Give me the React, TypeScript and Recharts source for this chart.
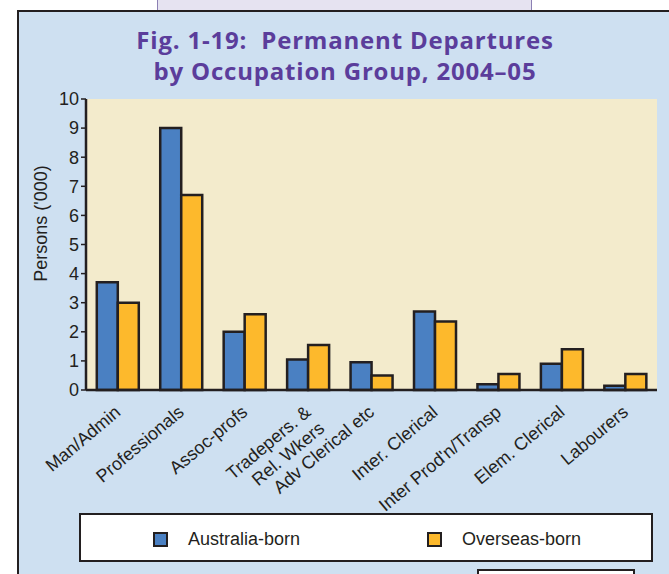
import { Bar, BarChart, CartesianGrid, Legend, XAxis, YAxis } from 'recharts';

const categories = [
  'Man/Admin',
  'Professionals',
  'Assoc-profs',
  'Tradepers. &\nRel. Wkers',
  'Adv Clerical etc',
  'Inter. Clerical',
  "Inter Prod'n/Transp",
  'Elem. Clerical',
  'Labourers',
];
const australiaBorn = [3.7, 9.0, 2.0, 1.05, 0.95, 2.7, 0.2, 0.9, 0.15];
const overseasBorn = [3.0, 6.7, 2.6, 1.55, 0.5, 2.35, 0.55, 1.4, 0.55];
const yTicks = [0, 1, 2, 3, 4, 5, 6, 7, 8, 9, 10];

const data = categories.map((name, i) => ({
  name,
  aus: australiaBorn[i],
  os: overseasBorn[i],
}));

const ink = '#231f20';
const font = '"Liberation Sans", Arial, sans-serif';

function XTick({ x, y, payload }: any) {
  const lines = String(payload.value).split('\n');
  return (
    <g transform={`translate(${x + 4},${y + 16})`}>
      <text transform="rotate(-40)" textAnchor="end" fontSize={18} fontFamily={font} fill={ink}>
        {lines.map((l, i) => (
          <tspan key={i} x={0} dy={i === 0 ? 0 : 21}>
            {l}
          </tspan>
        ))}
      </text>
    </g>
  );
}

function YLabel({ viewBox }: any) {
  const cx = viewBox.x + 41;
  const cy = viewBox.y + viewBox.height / 2 - 21;
  return (
    <text
      x={cx}
      y={cy}
      transform={`rotate(-90, ${cx}, ${cy})`}
      textAnchor="middle"
      dominantBaseline="central"
      fontSize={18}
      fontFamily={font}
      fill={ink}
    >
      Persons ('000)
    </text>
  );
}

function LegendBox({ payload }: any) {
  return (
    <div
      style={{
        width: 574,
        height: 49,
        boxSizing: 'border-box',
        border: `2px solid ${ink}`,
        background: '#fff',
        position: 'relative',
        fontFamily: font,
        fontSize: 18,
        color: ink,
      }}
    >
      {(payload || []).map((p: any, i: number) => (
        <div
          key={p.value}
          style={{
            position: 'absolute',
            left: i === 0 ? 72 : 346,
            top: 14,
            display: 'flex',
            alignItems: 'center',
            whiteSpace: 'nowrap',
          }}
        >
          <span
            style={{
              width: 15,
              height: 15,
              boxSizing: 'border-box',
              border: `2px solid ${ink}`,
              background: p.color,
              display: 'inline-block',
              marginRight: 20,
            }}
          />
          {p.value}
        </div>
      ))}
    </div>
  );
}

export default function App() {
  return (
    <div style={{ position: 'absolute', left: 0, top: 0, width: 669, height: 574, overflow: 'hidden', background: '#fff' }}>
      <div
        style={{
          position: 'absolute',
          left: 157,
          top: -4,
          width: 375,
          height: 20,
          boxSizing: 'border-box',
          background: '#e6e3f1',
          border: '1.5px solid #8c80b3',
        }}
      />
      <div
        style={{
          position: 'absolute',
          left: 17,
          top: 10,
          width: 700,
          height: 600,
          background: '#cee0f1',
          borderLeft: `2.5px solid ${ink}`,
          borderTop: `2px solid ${ink}`,
        }}
      />
      <div
        style={{
          position: 'absolute',
          left: 477,
          top: 569,
          width: 158,
          height: 20,
          boxSizing: 'border-box',
          background: '#fff',
          border: `2px solid ${ink}`,
        }}
      />
      <div
        style={{
          position: 'absolute',
          left: 0,
          top: 24,
          width: 690,
          textAlign: 'center',
          whiteSpace: 'pre',
          fontFamily: '"Open Sans", sans-serif',
          fontWeight: 700,
          fontSize: 24,
          letterSpacing: 0.8,
          lineHeight: '31px',
          color: '#5b3d9b',
        }}
      >
        {'Fig. 1-19:  Permanent Departures\nby Occupation Group, 2004–05'}
      </div>
      <div style={{ position: 'absolute', left: 0, top: 0 }}>
        <BarChart
          width={669}
          height={574}
          data={data}
          margin={{ top: 99, right: 12, bottom: 0, left: 0 }}
          barCategoryGap="17%"
          barGap={0}
        >
          <CartesianGrid fill="#f3ebcc" horizontal={false} vertical={false} />
          <XAxis
            dataKey="name"
            height={184}
            interval={0}
            tick={<XTick />}
            tickLine={false}
            axisLine={{ stroke: ink, strokeWidth: 2.5 }}
          />
          <XAxis
            xAxisId="top"
            orientation="top"
            dataKey="name"
            height={0}
            tick={false}
            tickLine={false}
            axisLine={{ stroke: ink, strokeWidth: 2.5 }}
          />
          <YAxis
            width={86}
            domain={[0, 10]}
            ticks={yTicks}
            interval={0}
            tickSize={5}
            tickMargin={2}
            tick={{ fill: ink, fontSize: 18, fontFamily: font }}
            tickLine={{ stroke: ink, strokeWidth: 1.5 }}
            axisLine={{ stroke: ink, strokeWidth: 2.5 }}
            label={<YLabel />}
          />
          <YAxis
            yAxisId="right"
            orientation="right"
            width={0}
            domain={[0, 10]}
            tick={false}
            tickLine={false}
            axisLine={{ stroke: ink, strokeWidth: 2.5 }}
          />
          <Legend
            layout="vertical"
            align="center"
            verticalAlign="middle"
            wrapperStyle={{ left: 79, top: 513, width: 574 }}
            content={<LegendBox />}
          />
          <Bar dataKey="aus" name="Australia-born" fill="#4a80c2" stroke={ink} strokeWidth={2.5} isAnimationActive={false} />
          <Bar dataKey="os" name="Overseas-born" fill="#fdb92c" stroke={ink} strokeWidth={2.5} isAnimationActive={false} />
        </BarChart>
      </div>
    </div>
  );
}
